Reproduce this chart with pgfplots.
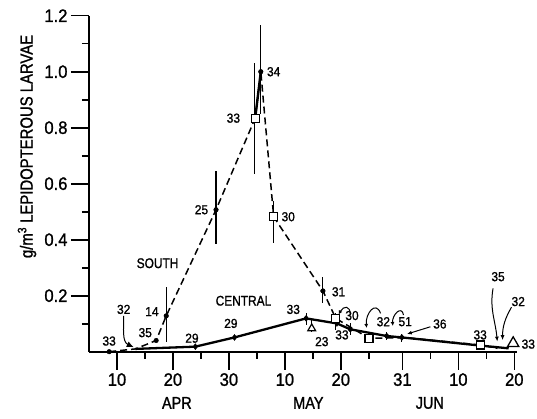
\documentclass[border=0pt]{standalone}
\usepackage{pgfplots}
\pgfplotsset{compat=1.18}
\usepackage{pgfplotstable}
\usepackage{fontspec}
\setmainfont{Liberation Sans}[FakeStretch=0.85, FakeBold=1.2]
\newfontfamily\tickfont{Liberation Sans}[FakeStretch=0.92, FakeBold=1.2]
\usetikzlibrary{arrows.meta}
\newcommand{\lblsmall}{\tickfont\fontsize{13}{15}\selectfont}
\newcommand{\lblbig}{\fontsize{14}{16}\selectfont}
\newcommand{\lbltick}{\tickfont\fontsize{18}{21}\selectfont}
\newcommand{\lblmonth}{\fontsize{17}{20}\selectfont}

% south series (dashed)
\pgfplotstableread{
x y
8.6 0
13.3 0.01
17.0 0.04
18.8 0.128
27.7 0.507
34.7 0.834
35.7 1.0
38.0 0.482
46.8 0.217
49.1 0.119
55.05 0.048
61.8 0.05
74.9 0.024
78.0 0.012
}\tabsouth
% central series (solid)
\pgfplotstableread{
x y
13.3 0.01
24.0 0.018
31.0 0.051
43.8 0.119
49.3 0.101
51.7 0.08
58.2 0.056
60.9 0.051
74.9 0.022
80.0 0.012
}\tabcentral
% error bars
\pgfplotstableread{
x y ep em
18.8 0.128 0.102 0.095
27.7 0.507 0.137 0.123
34.6 0.834 0.196 0.200
35.7 1.0 0.167 0.150
38.0 0.482 0.057 0.092
46.8 0.217 0.051 0.044
49.1 0.119 0.018 0.041
43.8 0.119 0.018 0.024
51.7 0.080 0.021 0.020
58.2 0.056 0.015 0.014
60.9 0.051 0.013 0.015
44.8 0.083 0.030 0.012
}\taberrs
\pgfplotstableread{
x y
8.6 0
17.0 0.04
18.8 0.128
27.7 0.507
35.7 1.0
46.8 0.217
}\tabsouthdots
\pgfplotstableread{
x y
24.0 0.018
31.0 0.051
43.8 0.119
49.3 0.101
51.7 0.08
58.2 0.056
60.9 0.051
}\tabcentraldots
\pgfplotstableread{
x y
34.7 0.834
38.0 0.482
49.1 0.119
55.05 0.048
74.9 0.024
}\tabsquares

\begin{document}
\begin{tikzpicture}
\begin{axis}[
  at={(0,0)}, anchor=south west,
  scale only axis, width=428.1pt, height=336pt,
  xmin=5, xmax=81.5, ymin=0, ymax=1.2,
  axis x line=bottom, axis y line=left,
  axis line style={-, line width=2.2pt},
  tick align=outside,
  major tick length=18pt, minor tick length=7pt,
  tick style={line width=1.6pt, black},
  xtick={10,20,30,40,50,61,71,81},
  xticklabels={10,20,30,10,20,31,10,20},
  minor xtick={15,25,35,45,55,66,76},
  ytick={0.2,0.4,0.6,0.8,1.0,1.2},
  minor ytick={0.1,0.3,0.5,0.7,0.9,1.1},
  /pgf/number format/assume math mode=true,
  tick label style={font=\lbltick},
  xticklabel style={font=\lbltick},
  yticklabel style={font=\lbltick, /pgf/number format/.cd, fixed, fixed zerofill, precision=1},
  clip=false,
]
% error bars
\addplot[only marks, mark=none, error bars/.cd, y dir=both, y explicit, error mark=none,
  error bar style={line width=1.1pt, black}]
  table[x=x, y=y, y error plus=ep, y error minus=em] {\taberrs};
% south dashed
\addplot[black, line width=1.5pt, dash pattern=on 7pt off 4pt, mark=none] table[x=x,y=y] {\tabsouth};
\addplot[black, line width=2.4pt, mark=none] coordinates {(34.7,0.834) (35.7,1.0)};
% central solid
\addplot[black, line width=2.3pt, mark=none] table[x=x,y=y] {\tabcentral};
% marks
\addplot[only marks, mark=*, mark size=2.3pt, black] table[x=x,y=y] {\tabsouthdots};
\addplot[only marks, mark=diamond*, mark size=3pt, black] table[x=x,y=y] {\tabcentraldots};
\addplot[only marks, mark=square*, mark size=4pt, fill=white, draw=black, line width=1.2pt] table[x=x,y=y] {\tabsquares};
\addplot[only marks, mark=triangle*, mark size=4.5pt, fill=white, draw=black, line width=1.2pt] coordinates {(44.8,0.083)};
\addplot[only marks, mark=triangle*, mark size=6.5pt, fill=white, draw=black, line width=1.3pt] coordinates {(80.8,0.03)};

% texts
\node[rotate=90, font=\fontsize{17.5}{20}\selectfont] at ([xshift=-62pt]axis cs:5,0.733) {g/m\textsuperscript{3} LEPIDOPTEROUS LARVAE};
\node[font=\lblmonth] at (axis cs:20.7,-0.183) {APR};
\node[font=\lblmonth] at (axis cs:44.2,-0.183) {MAY};
\node[font=\lblmonth] at (axis cs:65.9,-0.183) {JUN};
\node[font=\lblbig] at (axis cs:17.25,0.316) {SOUTH};
\node[font=\lblbig] at (axis cs:32.6,0.182) {CENTRAL};

\node[font=\lblsmall] at (axis cs:8.6,0.038) {33};
\node[font=\lblsmall] at (axis cs:11.2,0.151) {32};
\node[font=\lblsmall] at (axis cs:16.25,0.143) {14};
\node[font=\lblsmall] at (axis cs:15.05,0.068) {35};
\node[font=\lblsmall] at (axis cs:23.4,0.048) {29};
\node[font=\lblsmall] at (axis cs:30.35,0.101) {29};
\node[font=\lblsmall] at (axis cs:41.5,0.151) {33};
\node[font=\lblsmall] at (axis cs:25.1,0.507) {25};
\node[font=\lblsmall] at (axis cs:30.8,0.834) {33};
\node[font=\lblsmall] at (axis cs:38.0,1.0) {34};
\node[font=\lblsmall] at (axis cs:40.6,0.482) {30};
\node[font=\lblsmall] at (axis cs:49.6,0.214) {31};
\node[font=\lblsmall] at (axis cs:52.0,0.129) {30};
\node[font=\lblsmall] at (axis cs:46.6,0.036) {23};
\node[font=\lblsmall] at (axis cs:50.2,0.060) {33};
\node[font=\lblsmall] at (axis cs:57.6,0.107) {32};
\node[font=\lblsmall] at (axis cs:61.5,0.107) {51};
\node[font=\lblsmall] at (axis cs:67.7,0.099) {36};
\node[font=\lblsmall] at (axis cs:74.9,0.060) {33};
\node[font=\lblsmall] at (axis cs:78.1,0.268) {35};
\node[font=\lblsmall] at (axis cs:81.7,0.179) {32};
\node[font=\lblsmall] at (axis cs:83.5,0.027) {33};

% arrows
\draw[line width=1pt, -{Latex[length=7pt,width=6pt]}] (axis cs:11.2,0.128) to[out=-90,in=155] (axis cs:13.0,0.016);
\draw[line width=1pt, -{Latex[length=4pt,width=4pt]}] (axis cs:51.7,0.131) to[out=90,in=60,looseness=2.2] (axis cs:49.6,0.133);
\draw[line width=1pt, -{Latex[length=4pt,width=4pt]}] (axis cs:57.1,0.137) to[out=110,in=95,looseness=1.8] (axis cs:54.6,0.085);
\draw[line width=1pt, -{Latex[length=4pt,width=4pt]}] (axis cs:61.2,0.131) to[out=100,in=95,looseness=1.8] (axis cs:59.3,0.092);
\draw[line width=1pt, -{Latex[length=5pt,width=4pt]}] (axis cs:66.0,0.089) -- (axis cs:61.8,0.063);
\draw[line width=1pt, -{Latex[length=5pt,width=4pt]}] (axis cs:77.2,0.226) to[out=-100,in=95] (axis cs:77.96,0.036);
\draw[line width=1pt, -{Latex[length=5pt,width=4pt]}] (axis cs:80.5,0.159) to[out=-120,in=90] (axis cs:78.9,0.041);
\end{axis}
\pgfresetboundingbox
\useasboundingbox (-89pt,-66.3pt) rectangle (448pt,351.7pt);
\end{tikzpicture}
\end{document}
